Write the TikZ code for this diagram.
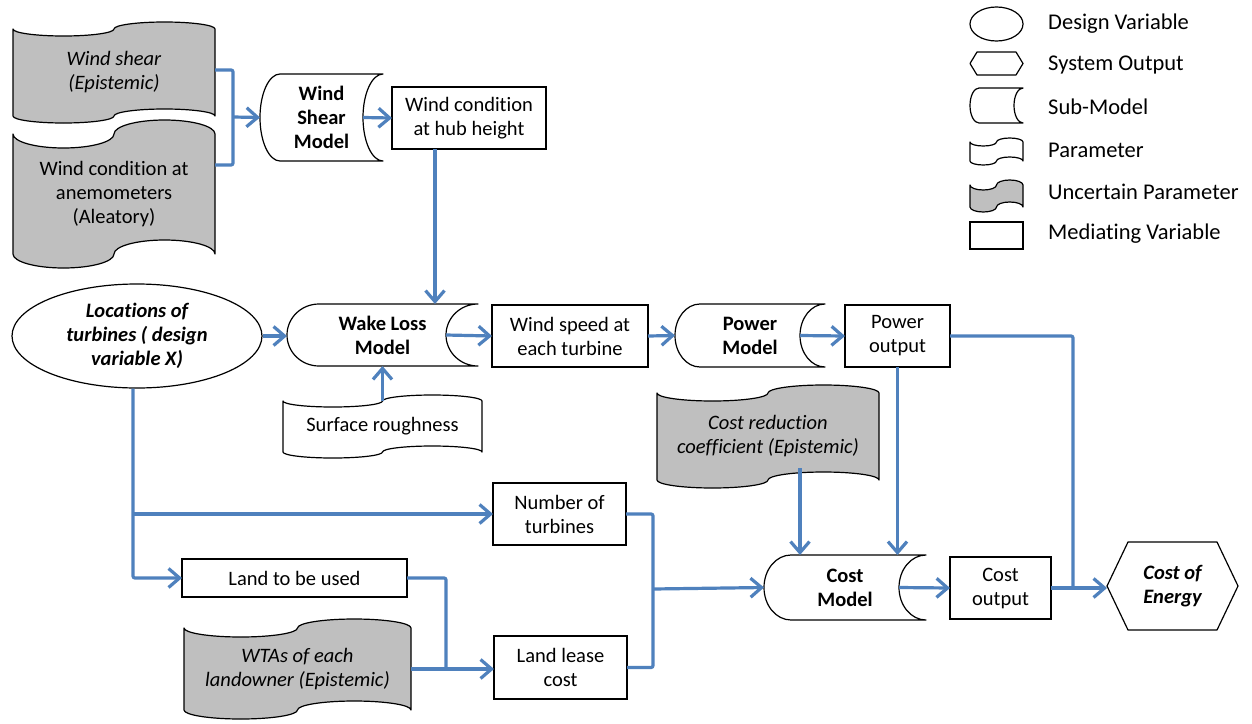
\documentclass[tikz,border=0pt]{standalone}
\usepackage{fontspec}
\setmainfont{Carlito}[Ligatures=NoCommon]
\usetikzlibrary{arrows.meta,calc,shapes.geometric}

\definecolor{linkblue}{RGB}{79,129,189}
\definecolor{paramgray}{RGB}{191,191,191}

\tikzset{
  x=1pt, y=1pt,
  box/.style={inner sep=0pt, outer sep=0pt, align=center, font=\fontsize{20.5}{24}\selectfont},
  outline/.style={draw=black, line width=1.2pt, line join=round},
  plainparam/.style={outline, fill=white},
  grayparam/.style={outline, fill=paramgray},
  mediating/.style={box, draw=black, line width=1.2pt},
  conn/.style={draw=linkblue, line width=3.2pt, rounded corners=2pt},
  arr/.style={conn, -{Straight Barb[length=11pt,width=19pt]}},
  legendtext/.style={inner sep=0pt, anchor=west, font=\fontsize{22.5}{26}\selectfont},
}

% tape-like parameter: name, cx, cy, width, height, wave amplitude, style, text
\newcommand\paramshape[8]{%
  \draw[#7] ({#2-#4/2},{#3+#5/2-#6})
    arc[start angle=180,end angle=360,x radius={#4/4},y radius={#6}]
    arc[start angle=180,end angle=0,x radius={#4/4},y radius={#6}]
    -- ({#2+#4/2},{#3-#5/2+#6})
    arc[start angle=0,end angle=180,x radius={#4/4},y radius={#6}]
    arc[start angle=0,end angle=-180,x radius={#4/4},y radius={#6}]
    -- cycle;
  \node[box, minimum width=#4, minimum height=#5] (#1) at (#2,#3) {#8};
}

% sub-model: convex left end, concave right end
% name, cx, cy, width, height, end depth, text
\newcommand\submodelshape[7]{%
  \draw[outline] ({#2-#4/2+#6},{#3+#5/2}) -- ({#2+#4/2},{#3+#5/2})
    arc[start angle=90,end angle=270,x radius={#6},y radius={#5/2}]
    -- ({#2-#4/2+#6},{#3-#5/2})
    arc[start angle=270,end angle=90,x radius={#6},y radius={#5/2}];
  \node[box, minimum width=#4, minimum height=#5, font=\fontsize{20.5}{24}\selectfont\bfseries] (#1) at (#2,#3) {#7};
}

% system output hexagon: name, cx, cy, width, height, inset, text
\newcommand\hexshape[7]{%
  \draw[outline] ({#2-#4/2},{#3}) -- ({#2-#4/2+#6},{#3+#5/2}) -- ({#2+#4/2-#6},{#3+#5/2})
    -- ({#2+#4/2},{#3}) -- ({#2+#4/2-#6},{#3-#5/2}) -- ({#2-#4/2+#6},{#3-#5/2}) -- cycle;
  \node[box, minimum width=#4, minimum height=#5, font=\fontsize{20.5}{24}\selectfont\bfseries\itshape] (#1) at (#2,#3) {#7};
}

\begin{document}
\begin{tikzpicture}
\useasboundingbox (0,0) rectangle (1252,-723);
\fill[white] (0,0) rectangle (1252,-723);

% ---- parameters ----
\paramshape{ws}{114}{-72.5}{202}{101}{7}{grayparam}{\itshape Wind shear\\\itshape (Epistemic)}
\paramshape{wca}{114}{-194}{202}{148}{14}{grayparam}{Wind condition at\\anemometers\\(Aleatory)}
\paramshape{surf}{382.5}{-426.5}{199}{63}{6}{plainparam}{Surface roughness}
\paramshape{crc}{768}{-436.5}{222}{103}{8}{grayparam}{\itshape Cost reduction\\\itshape coefficient (Epistemic)}
\paramshape{wta}{297.5}{-669}{227}{100}{9}{grayparam}{\itshape WTAs of each\\\itshape landowner (Epistemic)}

% ---- sub-models ----
\submodelshape{wsm}{321.5}{-117.5}{123}{87}{20}{Wind\\Shear\\Model}
\submodelshape{wake}{382.5}{-335}{191}{62}{32}{Wake Loss\\Model}
\submodelshape{pm}{750}{-335.5}{150}{63}{25}{Power\\Model}
\submodelshape{cm}{845}{-587.5}{162}{65}{27}{Cost\\Model}

% ---- mediating variables ----
\node[mediating, minimum width=154, minimum height=62] (hub) at (469,-118) {Wind condition\\at hub height};
\node[mediating, minimum width=156, minimum height=62] (wsp) at (570,-336) {Wind speed at\\each turbine};
\node[mediating, minimum width=105, minimum height=62] (po) at (897.5,-336) {Power\\output};
\node[mediating, minimum width=133, minimum height=62] (not) at (559.5,-514) {Number of\\turbines};
\node[mediating, minimum width=133, minimum height=63] (llc) at (560.5,-667.5) {Land lease\\cost};
\node[mediating, minimum width=225, minimum height=38] (ltbu) at (294.5,-578) {Land to be used};
\node[mediating, minimum width=101, minimum height=62] (co) at (1000.5,-588) {Cost\\output};

% ---- design variable and system output ----
\node[ellipse, draw=black, line width=1.2pt, inner sep=0pt, minimum width=250, minimum height=104,
      align=center, font=\fontsize{20.5}{24}\selectfont\bfseries\itshape] (loc) at (137,-336)
      {Locations of\\turbines ( design\\variable X)};
\hexshape{coe}{1172.5}{-586}{131}{88}{21}{Cost of\\Energy}

% ---- connectors ----
\coordinate (jws) at (233,-117);
\draw[conn] ($(ws.east)+(0,2.5)$) -| (jws) |- ($(wca.east)+(0,29)$);
\draw[arr] (jws) -- (wsm.west);
\draw[arr] ($(wsm.east)+(-20,0)$) -- (hub.west);
\draw[arr] ($(hub.south)+(-34,0)$) coordinate (hubdown) -- (hubdown |- wake.north);
\draw[arr] (loc.east) -- (loc.east -| wake.west);
\draw[arr] ($(surf.north)+(0,-6)$) -- (wake.south);
\draw[arr] ($(wake.east)+(-32,0)$) -- (wsp.west);
\draw[arr] (wsp.east) -- (pm.west);
\draw[arr] ($(pm.east)+(-25,0)$) -- (po.west);
\coordinate (jce) at (1073,-586);
\draw[conn] (po.east) -| (jce);
\draw[arr] (po.south) -- (po.south |- cm.north);
\draw[arr] ($(crc.south)+(32,20)$) coordinate (crcdown) -- (crcdown |- cm.north);
\draw[arr] ($(cm.east)+(-27,0)$) -- (co.west);
\draw[arr] (co.east) -- (co.east -| coe.west);

\coordinate (locdown) at ($(loc.south)+(-4,0)$);
\draw[arr] (locdown) |- (ltbu.west);
\draw[arr] (locdown |- not.west) -- (not.west);
\draw[conn] (ltbu.east) -| ($(llc.west)+(-48,-2)$);
\draw[arr] (wta.east) -- (wta.east -| llc.west);
\coordinate (jcm) at (653,-589);
\draw[conn] (not.east) -| (jcm |- llc.east) -- (llc.east);
\draw[arr] (jcm) -- (cm.west);

% ---- legend ----
\node[ellipse, draw=black, line width=1.2pt, inner sep=0pt, minimum width=53, minimum height=34] (lgdv) at (996.5,-24) {};
\hexshape{lgso}{996.5}{-63.5}{53}{23}{7}{}
\submodelshape{lgsm}{996.5}{-105.5}{53}{35}{9}{}
\paramshape{lgp}{996.5}{-151.5}{53}{27}{4}{plainparam}{}
\paramshape{lgup}{996.5}{-196}{53}{32}{5}{grayparam}{}
\node[mediating, minimum width=53, minimum height=27] (lgmv) at (996.5,-235.5) {};

\node[legendtext] (tdv) at (1048,-24) {Design Variable};
\node[legendtext] (tso) at (1048,-65) {System Output};
\node[legendtext] (tsm) at (1048,-107) {Sub-Model};
\node[legendtext] (tp) at (1048,-150) {Parameter};
\node[legendtext] (tup) at (1048,-192) {Uncertain Parameter};
\node[legendtext] (tmv) at (1048,-234) {Mediating Variable};
\end{tikzpicture}
\end{document}
